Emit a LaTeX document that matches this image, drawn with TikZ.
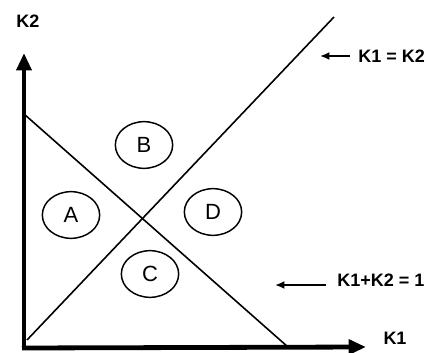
\documentclass[tikz,border=0pt]{standalone}
\usepackage{fontspec}
\setmainfont{Liberation Sans}
\usetikzlibrary{arrows.meta,positioning,shapes.geometric}
\tikzset{
    >=Latex,
    axis/.style={line width=3.6pt, -{Triangle[length=13pt,width=11pt]}},
    boundary/.style={line width=1.2pt},
    region/.style={draw, ellipse, line width=1.1pt, minimum width=43pt, minimum height=35pt, inner sep=0pt, font=\fontsize{16.5}{18}\selectfont},
    lbl/.style={font=\fontsize{13.5}{15}\selectfont\bfseries, inner sep=0pt},
    pointer/.style={-{Latex[length=7pt,width=6pt]}, line width=1.4pt}
}

\begin{document}
\begin{tikzpicture}[x=0.75pt,y=-0.75pt]
\useasboundingbox (0,0) rectangle (428,353);
% axes
\coordinate (O) at (24,348);
\coordinate (xtip) at (366,347);
\coordinate (ytip) at (24,53);
\draw[axis] (24,350) -- (ytip);
\draw[axis] (22,348) -- (xtip);
\node[lbl] (k2) at (28,21) {K2};
\node[lbl] (k1) at (395,338) {K1};
% the two boundary lines
\coordinate (sumA) at (24,114);
\coordinate (sumB) at (288,347);
\coordinate (eqA) at (27,340);
\coordinate (eqB) at (334,17);
\draw[boundary] (sumA) -- (sumB);
\draw[boundary] (eqA) -- (eqB);
% regions
\node[region] (B) at (144,145) {B};
\node[region] (A) at (71,215) {A};
\node[region] (C) at (150,274) {C};
\node[region] (D) at (213,212) {D};
% line labels
\node[lbl, anchor=west] (eqlbl) at (358,56) {K1 = K2};
\coordinate (eqptr) at (320,56);
\draw[pointer] (eqlbl.west) ++(-6pt,0) -- (eqptr);
\node[lbl, anchor=west] (sumlbl) at (337,280) {K1+K2 = 1};
\coordinate (sumptr) at (275,285);
\draw[pointer] (sumlbl.west |- sumptr) ++(-8pt,0) -- (sumptr);
\end{tikzpicture}
\end{document}
